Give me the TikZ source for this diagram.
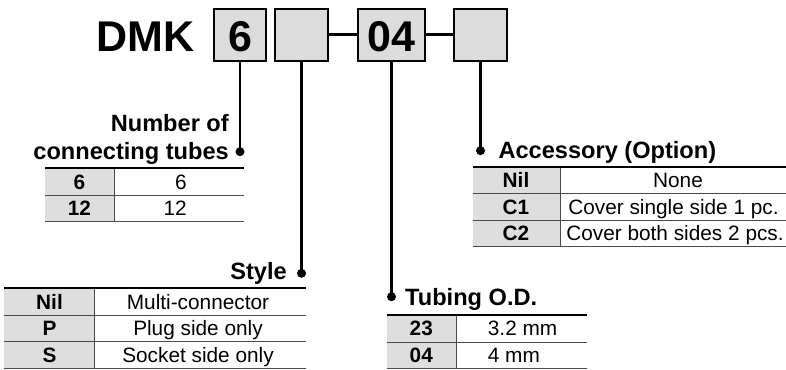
\documentclass[tikz,border=0pt]{standalone}
\usepackage{fontspec}
\setmainfont{Liberation Sans}
\definecolor{boxgray}{HTML}{DCDCDC}
\definecolor{cellgray}{HTML}{DEDEDE}
\definecolor{rulegray}{HTML}{4A4A4A}
\begin{document}
\begin{tikzpicture}[x=1pt,y=-1pt,
  big/.style={font=\fontsize{43}{43}\selectfont\bfseries},
  codebox/.style={draw=black, line width=2.2pt, fill=boxgray, inner sep=0pt,
    text height=34pt, text depth=0pt, minimum height=52pt, big},
  head/.style={font=\fontsize{23.6}{25}\selectfont\bfseries, inner sep=0pt},
  cellb/.style={font=\fontsize{20.8}{21}\selectfont\bfseries, inner sep=0pt, anchor=base},
  cellr/.style={font=\fontsize{20.8}{21}\selectfont, inner sep=0pt, anchor=base},
  dotnode/.style={circle, fill=black, inner sep=0pt, minimum size=9pt},
  lead/.style={line width=2.1pt},
  joint/.style={line width=3pt},
  toprule/.style={line width=1.9pt, draw=black},
  thinrule/.style={line width=1pt, draw=rulegray},
]
\useasboundingbox (0,0) rectangle (786,369);

% model code
\node[big, inner sep=0pt, anchor=base] (dmk) at (145.5,52) {DMK};
\node[codebox, minimum width=52pt] (b1) at (240,35) {6};
\node[codebox, minimum width=53pt] (b2) at (301.5,35) {};
\node[codebox, minimum width=67pt] (b3) at (391.5,35) {04};
\node[codebox, minimum width=53pt] (b4) at (480.5,35) {};
\draw[joint] (b2.east) -- (b3.west);
\draw[joint] (b3.east) -- (b4.west);

% leaders and dots
\node[dotnode] (d1) at (240,151.7) {};
\node[dotnode] (d2) at (301.5,273.3) {};
\node[dotnode] (d3) at (391.5,296.7) {};
\node[dotnode] (d4) at (480.5,150.7) {};
\draw[lead] (b1.south) -- (d1.center);
\draw[lead] (b2.south) -- (d2.center);
\draw[lead] (b3.south) -- (d3.center);
\draw[lead] (b4.south) -- (d4.center);

% headings
\node[head, anchor=base east] (h1a) at (229,131.7) {Number of};
\node[head, anchor=base east] (h1b) at (229,159.3) {connecting tubes};
\node[head, anchor=base east] (h2) at (287,279.3) {Style};
\node[head, anchor=base west] (h3) at (405,305.7) {Tubing O.D.};
\node[head, anchor=base west] (h4) at (498.3,158.3) {Accessory (Option)};

% table 1: number of connecting tubes
\fill[cellgray] (45,168.3) rectangle (114,221.7);
\draw[thinrule] (45,195) -- (244.3,195);
\draw[thinrule] (45,221.7) -- (244.3,221.7);
\draw[thinrule] (114,168.3) -- (114,221.7);
\draw[toprule] (45,168.3) -- (244.3,168.3);
\node[cellb] (t1a) at (79.5,189) {6};
\node[cellb] (t1b) at (79.5,215.7) {12};
\node[cellr, anchor=base east] (t1c) at (187,189) {6};
\node[cellr, anchor=base east] (t1d) at (187,215.7) {12};

% table 2: style
\fill[cellgray] (4,288.3) rectangle (94.3,368.3);
\draw[thinrule] (4,315) -- (306,315);
\draw[thinrule] (4,341.7) -- (306,341.7);
\draw[thinrule] (4,368.3) -- (306,368.3);
\draw[thinrule] (94.3,288.3) -- (94.3,368.3);
\draw[toprule] (4,288.3) -- (306,288.3);
\node[cellb] (t2a) at (49.5,309) {Nil};
\node[cellb] (t2b) at (49.5,335.7) {P};
\node[cellb] (t2c) at (49.5,362.3) {S};
\node[cellr] (t2d) at (198,309) {Multi-connector};
\node[cellr] (t2e) at (198,335.7) {Plug side only};
\node[cellr] (t2f) at (198,362.3) {Socket side only};

% table 3: tubing O.D.
\fill[cellgray] (386.7,315) rectangle (456,368.3);
\draw[thinrule] (386.7,342) -- (586.7,342);
\draw[thinrule] (386.7,368.3) -- (586.7,368.3);
\draw[thinrule] (456,315) -- (456,368.3);
\draw[toprule] (386.7,315) -- (586.7,315);
\node[cellb] (t3a) at (421.3,335.8) {23};
\node[cellb] (t3b) at (421.3,362.3) {04};
\node[cellr, anchor=base west] (t3c) at (487.7,335.8) {3.2 mm};
\node[cellr, anchor=base west] (t3d) at (487.7,362.3) {4 mm};

% table 4: accessory
\fill[cellgray] (473.3,166.7) rectangle (560,246.7);
\draw[thinrule] (473.3,193.3) -- (786,193.3);
\draw[thinrule] (473.3,220) -- (786,220);
\draw[thinrule] (473.3,246.7) -- (786,246.7);
\draw[thinrule] (560,166.7) -- (560,246.7);
\draw[toprule] (473.3,166.7) -- (786,166.7);
\node[cellb] (t4a) at (516,187.3) {Nil};
\node[cellb] (t4b) at (516,214) {C1};
\node[cellb] (t4c) at (516,240.7) {C2};
\node[cellr] (t4d) at (678,187.3) {None};
\node[cellr] (t4e) at (673.5,214) {Cover single side 1 pc.};
\node[cellr] (t4f) at (675,240.7) {Cover both sides 2 pcs.};
\end{tikzpicture}
\end{document}
